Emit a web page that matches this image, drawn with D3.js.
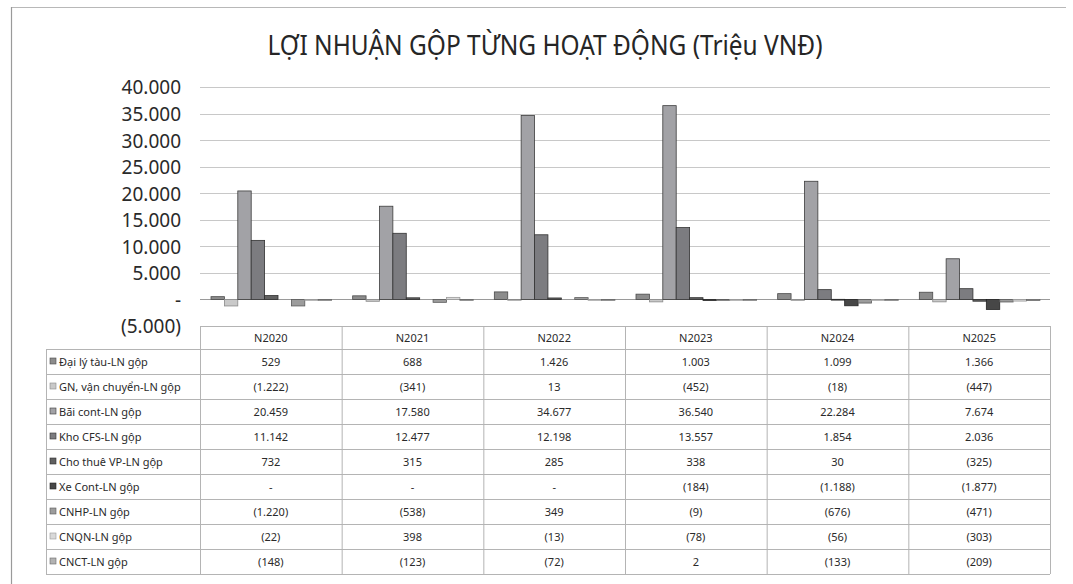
<!DOCTYPE html>
<html>
<head>
<meta charset="utf-8">
<script src="https://cdn.jsdelivr.net/npm/d3@7"></script>
<style>
  html, body { margin: 0; padding: 0; background: #fff; }
  svg { display: block; }
  text { font-family: "Noto Sans", "DejaVu Sans", sans-serif; fill: #2a2a2a; }
</style>
</head>
<body>
<svg id="chart" width="1073" height="584"></svg>
<script>
// ---------- DATA ----------
const years = ["N2020", "N2021", "N2022", "N2023", "N2024", "N2025"];
const seriesNames = [
  "Đại lý tàu-LN gộp",
  "GN, vận chuyển-LN gộp",
  "Bãi cont-LN gộp",
  "Kho CFS-LN gộp",
  "Cho thuê VP-LN gộp",
  "Xe Cont-LN gộp",
  "CNHP-LN gộp",
  "CNQN-LN gộp",
  "CNCT-LN gộp"
];
const daiLyTau   = [529, 688, 1426, 1003, 1099, 1366];
const gnVanChuyen = [-1222, -341, 13, -452, -18, -447];
const baiCont    = [20459, 17580, 34677, 36540, 22284, 7674];
const khoCFS     = [11142, 12477, 12198, 13557, 1854, 2036];
const choThueVP  = [732, 315, 285, 338, 30, -325];
const xeCont     = [null, null, null, -184, -1188, -1877];
const cnhp       = [-1220, -538, 349, -9, -676, -471];
const cnqn       = [-22, 398, -13, -78, -56, -303];
const cnct       = [-148, -123, -72, 2, -133, -209];
const yTicks = [-5000, 0, 5000, 10000, 15000, 20000, 25000, 30000, 35000, 40000];
const title = "LỢI NHUẬN GỘP TỪNG HOẠT ĐỘNG (Triệu VNĐ)";

const allSeries = [daiLyTau, gnVanChuyen, baiCont, khoCFS, choThueVP, xeCont, cnhp, cnqn, cnct];
const fills   = ["#8c8c8c", "#c9c9c9", "#a2a2a6", "#7c7c80", "#606060", "#474747", "#9c9c9c", "#d9d9d9", "#b2b2b2"];
const strokes = ["#4a4a4a", "#8a8a8a", "#3c3c3c", "#333333", "#2e2e2e", "#222222", "#5a5a5a", "#9a9a9a", "#6a6a6a"];

// ---------- HELPERS ----------
function fmt(v) {
  if (v === null || v === undefined || v === 0) return "-";
  const s = d3.format(",")(Math.abs(v)).replace(/,/g, ".");
  return v < 0 ? "(" + s + ")" : s;
}

// ---------- LAYOUT ----------
const svg = d3.select("#chart");
const plotLeft = 200, plotRight = 1050;
const yTop = 87.3, yBottom = 326;

// outer chart border (top & left visible in scan)
svg.append("line").attr("x1", 11).attr("x2", 1066).attr("y1", 7.5).attr("y2", 7.5)
  .attr("stroke", "#b8b8b8").attr("stroke-width", 1);
svg.append("line").attr("x1", 11.5).attr("x2", 11.5).attr("y1", 7).attr("y2", 584)
  .attr("stroke", "#9a9a9a").attr("stroke-width", 1.2);

// title
svg.append("text")
  .attr("x", 545).attr("y", 55)
  .attr("text-anchor", "middle")
  .attr("font-size", 27)
  .attr("textLength", 555)
  .attr("lengthAdjust", "spacingAndGlyphs")
  .style("fill", "#262626")
  .text(title);

// scales
const y = d3.scaleLinear().domain([-5000, 40000]).range([yBottom, yTop]);
const x = d3.scaleBand().domain(years).range([plotLeft, plotRight]).padding(0);
const barW = 13.4;
const inner = d3.scaleBand().domain(d3.range(allSeries.length))
  .range([11, 11 + barW * allSeries.length]).padding(0);

// gridlines
const grid = svg.append("g");
grid.selectAll("line").data(yTicks.filter(t => t > -5000)).join("line")
  .attr("x1", plotLeft).attr("x2", plotRight)
  .attr("y1", d => Math.round(y(d)) + 0.5).attr("y2", d => Math.round(y(d)) + 0.5)
  .attr("stroke", d => d === 0 ? "#9a9a9a" : "#c8c8c8")
  .attr("stroke-width", 1);

// y axis labels
const yAxis = d3.axisLeft(y).tickValues(yTicks).tickSize(0).tickPadding(0)
  .tickFormat(d => fmt(d));
const yg = svg.append("g").attr("transform", "translate(181,0)").call(yAxis);
yg.select(".domain").remove();
yg.selectAll("text")
  .attr("font-size", 19)
  .attr("dy", "0.35em")
  .style("fill", "#2a2a2a")
  .style("font-family", "'Noto Sans', sans-serif");

// bars
const bars = svg.append("g");
allSeries.forEach((vals, si) => {
  bars.append("g").selectAll("rect")
    .data(vals.map((v, i) => ({ year: years[i], v: v })).filter(d => d.v !== null))
    .join("rect")
    .attr("x", d => x(d.year) + inner(si))
    .attr("width", inner.bandwidth())
    .attr("y", d => y(Math.max(0, d.v)))
    .attr("height", d => Math.max(0.8, Math.abs(y(d.v) - y(0))))
    .attr("fill", fills[si])
    .attr("stroke", strokes[si])
    .attr("stroke-width", 0.8);
});

// ---------- DATA TABLE ----------
const tableTop = 326, headerH = 23, rowH = 25;
const legendLeft = 46;
const table = svg.append("g");
const lineColor = "#b4b4b4";

const rowsTop = tableTop + headerH;
const tableBottom = rowsTop + rowH * seriesNames.length;

// horizontal lines
table.append("line").attr("x1", plotLeft).attr("x2", plotRight)
  .attr("y1", tableTop + 0.5).attr("y2", tableTop + 0.5).attr("stroke", lineColor);
d3.range(seriesNames.length + 1).forEach(i => {
  const yy = rowsTop + i * rowH + 0.5;
  table.append("line").attr("x1", legendLeft).attr("x2", plotRight)
    .attr("y1", yy).attr("y2", yy).attr("stroke", lineColor);
});
// vertical lines
table.append("line").attr("x1", legendLeft + 0.5).attr("x2", legendLeft + 0.5)
  .attr("y1", rowsTop).attr("y2", tableBottom).attr("stroke", lineColor);
years.concat(["end"]).forEach((yr, i) => {
  const xx = (i < years.length ? x(yr) : plotRight) + 0.5;
  table.append("line").attr("x1", xx).attr("x2", xx)
    .attr("y1", tableTop).attr("y2", tableBottom).attr("stroke", lineColor);
});

// header labels
table.selectAll("text.hdr").data(years).join("text")
  .attr("class", "hdr")
  .attr("x", d => x(d) + x.bandwidth() / 2)
  .attr("y", tableTop + headerH / 2 + 4)
  .attr("text-anchor", "middle")
  .attr("font-size", 11)
  .text(d => d);

// legend + values
seriesNames.forEach((name, si) => {
  const cy = rowsTop + si * rowH + rowH / 2;
  table.append("rect")
    .attr("x", 50).attr("y", cy - 3.5).attr("width", 6).attr("height", 6)
    .attr("fill", fills[si]).attr("stroke", strokes[si]).attr("stroke-width", 0.6);
  table.append("text")
    .attr("x", 59).attr("y", cy + 4)
    .attr("font-size", 11)
    .text(name);
  allSeries[si].forEach((v, i) => {
    table.append("text")
      .attr("x", x(years[i]) + x.bandwidth() / 2)
      .attr("y", cy + 4)
      .attr("text-anchor", "middle")
      .attr("font-size", 11)
      .text(fmt(v));
  });
});
</script>
</body>
</html>
